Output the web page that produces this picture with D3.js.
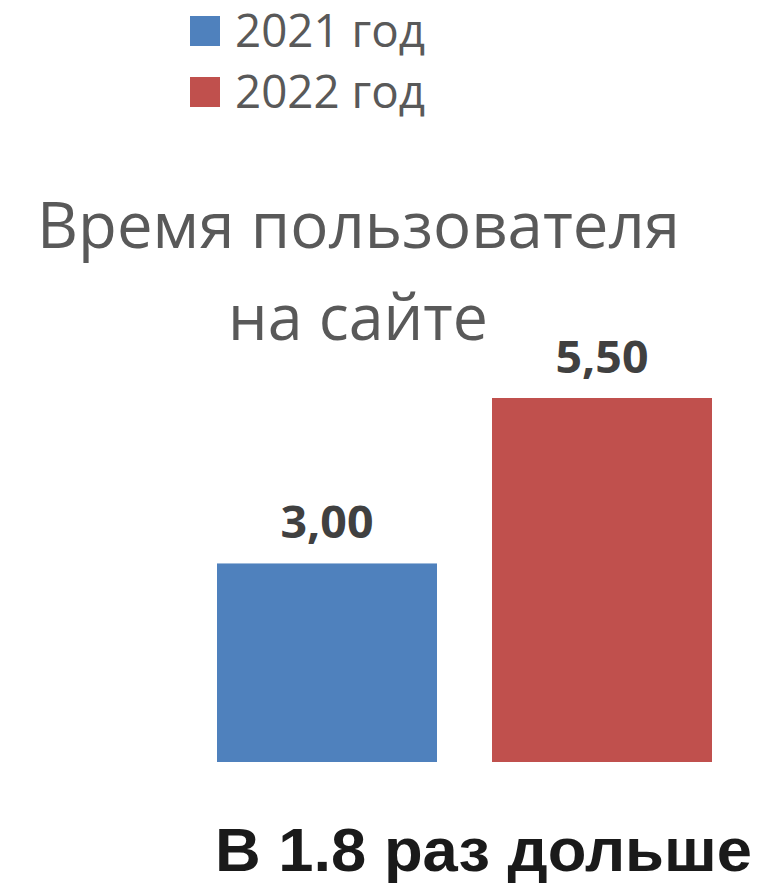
<!DOCTYPE html>
<html>
<head>
<meta charset="utf-8">
<script src="https://cdn.jsdelivr.net/npm/d3@7"></script>
<style>
  body { margin: 0; background: #fff; }
  svg { display: block; }
</style>
</head>
<body>
<svg id="chart" width="762" height="883"></svg>
<script>
const years = ['2021 год', '2022 год']
const values = [3.00, 5.50]
const colors = ['#4F81BD', '#C0504D']
const titleLines = ['Время пользователя', 'на сайте']
const footnote = 'В 1.8 раз дольше'

const svg = d3.select('#chart')
const grey = '#595959'

const x = d3.scaleBand().domain(years).range([189.5, 739.5]).paddingInner(0.2).paddingOuter(0.1)
const y = d3.scaleLinear().domain([0, 5.5]).range([762, 398])
const color = d3.scaleOrdinal().domain(years).range(colors)
const fmt = v => d3.format('.2f')(v).replace('.', ',')

// legend
const legend = svg.append('g').selectAll('g').data(years).join('g')
  .attr('transform', (d, i) => `translate(190,${16 + i * 61})`)
legend.append('rect').attr('width', 30).attr('height', 30).attr('fill', d => color(d))
legend.append('text')
  .attr('x', 45).attr('y', 31)
  .attr('font-family', 'Open Sans, sans-serif').attr('font-size', 45)
  .attr('fill', grey)
  .attr('textLength', 190).attr('lengthAdjust', 'spacingAndGlyphs')
  .text(d => d)

// title
svg.append('text')
  .attr('x', 37).attr('y', 248)
  .attr('font-family', 'Open Sans, sans-serif').attr('font-size', 64)
  .attr('fill', grey)
  .attr('textLength', 643).attr('lengthAdjust', 'spacingAndGlyphs')
  .text(titleLines[0])
svg.append('text')
  .attr('x', 228).attr('y', 340)
  .attr('font-family', 'Open Sans, sans-serif').attr('font-size', 64)
  .attr('fill', grey)
  .attr('textLength', 260).attr('lengthAdjust', 'spacingAndGlyphs')
  .text(titleLines[1])

// bars
const data = years.map((d, i) => ({ year: d, value: values[i] }))
svg.append('g').selectAll('rect').data(data).join('rect')
  .attr('x', d => x(d.year))
  .attr('y', d => y(d.value))
  .attr('width', x.bandwidth())
  .attr('height', d => y(0) - y(d.value))
  .attr('fill', d => color(d.year))

svg.append('g').selectAll('text').data(data).join('text')
  .attr('x', d => x(d.year) + x.bandwidth() / 2)
  .attr('y', d => y(d.value) - 25)
  .attr('text-anchor', 'middle')
  .attr('font-family', 'Open Sans, sans-serif').attr('font-weight', 700).attr('font-size', 45)
  .attr('fill', '#404040')
  .attr('textLength', 93).attr('lengthAdjust', 'spacingAndGlyphs')
  .text(d => fmt(d.value))

// footnote
svg.append('text')
  .attr('x', 215).attr('y', 871)
  .attr('font-family', 'Liberation Sans, Arial, sans-serif').attr('font-weight', 700).attr('font-size', 62)
  .attr('fill', '#1a1a1a')
  .attr('textLength', 537).attr('lengthAdjust', 'spacingAndGlyphs')
  .text(footnote)
</script>
</body>
</html>
